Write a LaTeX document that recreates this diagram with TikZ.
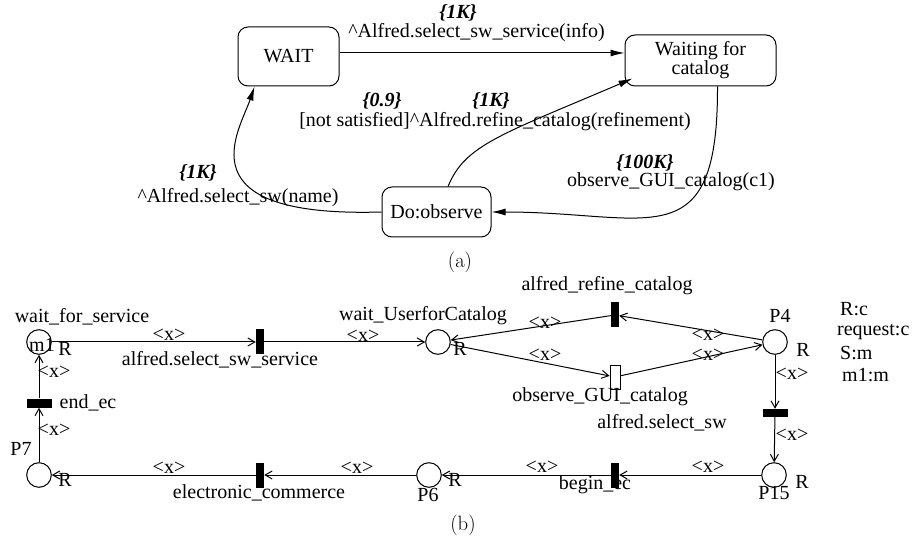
\documentclass[tikz,border=0pt]{standalone}
\usepackage[no-math]{fontspec}
\setmainfont{Liberation Serif}
\usetikzlibrary{arrows.meta}
\begin{document}
\begin{tikzpicture}[x=1pt,y=-1pt,
        every node/.style={font=\fontsize{20}{22}\selectfont, inner sep=0pt},
        state/.style={draw, rounded corners=10pt, line width=1pt},
        place/.style={draw, circle, minimum size=24.6pt, line width=1pt},
        trans/.style={fill=black, minimum width=8pt, minimum height=25pt},
        htrans/.style={fill=black, minimum width=25pt, minimum height=8pt},
        wtrans/.style={draw, fill=white, minimum width=10pt, minimum height=24pt, line width=0.8pt},
        sarc/.style={-{Latex[length=14pt,width=7pt]}, line width=1pt},
        parc/.style={-{Straight Barb[length=7pt,width=8pt]}, line width=1pt},
        prob/.style={font=\fontsize{20}{22}\selectfont\bfseries\itshape}]
    \useasboundingbox (0,0) rectangle (916,545);
        \node[state, minimum width=101pt, minimum height=59pt] (wait) at (288.5,56.5) {WAIT};
        \node[state, minimum width=151pt, minimum height=51pt, align=center, font=\fontsize{20}{18}\selectfont] (waitcat) at (700.5,60.5) {Waiting for\\catalog};
        \node[state, minimum width=109pt, minimum height=50pt] (doobs) at (436.5,212) {Do:observe};
        \draw[sarc] ([yshift=3.5pt]wait.east) -- ([yshift=7.5pt]waitcat.west);
        \draw[sarc] (doobs.west) .. controls (180,218) and (240,130) .. ([xshift=17pt]wait.south west);
        \draw[sarc] ([xshift=11.5pt]doobs.north) .. controls (465,145) and (500,135) .. ([shift={(8pt,8pt)}]waitcat.south west);
        \draw[sarc] ([xshift=17pt]waitcat.south) .. controls (718,260) and (650,212) .. (doobs.east);
        \node[prob] (kone) at (458,13) {\{1K\}};
        \node (lone) at (476.5,33) {\textasciicircum Alfred.select\_sw\_service(info)};
        \node[prob] (pnine) at (382,101) {\{0.9\}};
        \node[prob] (ktwo) at (491,101) {\{1K\}};
        \node (ltwo) at (495,122) {[not satisfied]\textasciicircum Alfred.refine\_catalog(refinement)};
        \node[prob] (kthree) at (198,173) {\{1K\}};
        \node (lthree) at (238,198) {\textasciicircum Alfred.select\_sw(name)};
        \node[prob] (kfour) at (645,163) {\{100K\}};
        \node (lfour) at (671,182) {observe\_GUI\_catalog(c1)};
        \node (capa) at (460,262) {$(\mathrm{a})$};

        \node[place] (pwait) at (39,342) {};
        \node (mone) at (42,345) {m1};
        \node (rpwait) at (65,349) {R};
        \node (npwait) at (82,317) {wait\_for\_service};
        \node[trans] (tselsrv) at (260,342) {};
        \node (ntselsrv) at (220,360) {alfred.select\_sw\_service};
        \node[place] (puser) at (438,342) {};
        \node (npuser) at (423,316) {wait\_UserforCatalog};
        \node (rpuser) at (460,349) {R};
        \node[trans] (trefine) at (615,315) {};
        \node (ntrefine) at (607,286) {alfred\_refine\_catalog};
        \node[wtrans] (tobs) at (615,377) {};
        \node (ntobs) at (600,397) {observe\_GUI\_catalog};
        \node[place] (pfour) at (775,342) {};
        \node (npfour) at (780,316) {P4};
        \node (rpfour) at (803,350) {R};
        \node[htrans] (tselsw) at (775,413) {};
        \node (ntselsw) at (662,423) {alfred.select\_sw};
        \node[place] (pfift) at (774,475) {};
        \node (npfift) at (774,493) {P15};
        \node (rpfift) at (802,482) {R};
        \node[trans] (tbegin) at (615,475) {};
        \node (ntbegin) at (595,485) {begin\_ec};
        \node[place] (psix) at (429,475) {};
        \node (npsix) at (428,495) {P6};
        \node (rpsix) at (455,480) {R};
        \node[trans] (tecom) at (260,475) {};
        \node (ntecom) at (259,493) {electronic\_commerce};
        \node[place] (pseven) at (39,475) {};
        \node (npseven) at (21,449) {P7};
        \node (rpseven) at (65,480) {R};
        \node[htrans, minimum height=9pt] (tend) at (39,403) {};
        \node (ntend) at (88,403) {end\_ec};
        \node (capb) at (463,525) {$(\mathrm{b})$};

        \node[anchor=west] (lgr) at (840,309) {R:c};
        \node[anchor=west] (lgreq) at (837,332) {request:c};
        \node[anchor=west] (lgs) at (840,353) {S:m};
        \node[anchor=west] (lgm) at (842,375) {m1:m};

        \draw[parc] (pwait) -- (tselsrv);
        \draw[parc] (tselsrv) -- (puser);
        \draw[parc] (trefine) -- (puser);
        \draw[parc] (pfour) -- (trefine);
        \draw[parc] (puser) -- (tobs);
        \draw[parc] (tobs) -- (pfour);
        \draw[parc] (pfour) -- (tselsw);
        \draw[parc] (tselsw) -- (pfift);
        \draw[parc] (pfift) -- (tbegin);
        \draw[parc] (tbegin) -- (psix);
        \draw[parc] (psix) -- (tecom);
        \draw[parc] (tecom) -- (pseven);
        \draw[parc] (pseven) -- (tend);
        \draw[parc] (tend) -- (pwait);

        \node (xa) at (169,335) {<x>};
        \node (xb) at (363,336) {<x>};
        \node (xc) at (545,323) {<x>};
        \node (xd) at (708,335) {<x>};
        \node (xe) at (545,355) {<x>};
        \node (xf) at (708,355) {<x>};
        \node (xg) at (792,374) {<x>};
        \node (xh) at (792,435) {<x>};
        \node (xi) at (708,467) {<x>};
        \node (xj) at (542,467) {<x>};
        \node (xk) at (357,468) {<x>};
        \node (xl) at (169,468) {<x>};
        \node (xm) at (54,430) {<x>};
        \node (xn) at (54,372) {<x>};
    \end{tikzpicture}
\end{document}
